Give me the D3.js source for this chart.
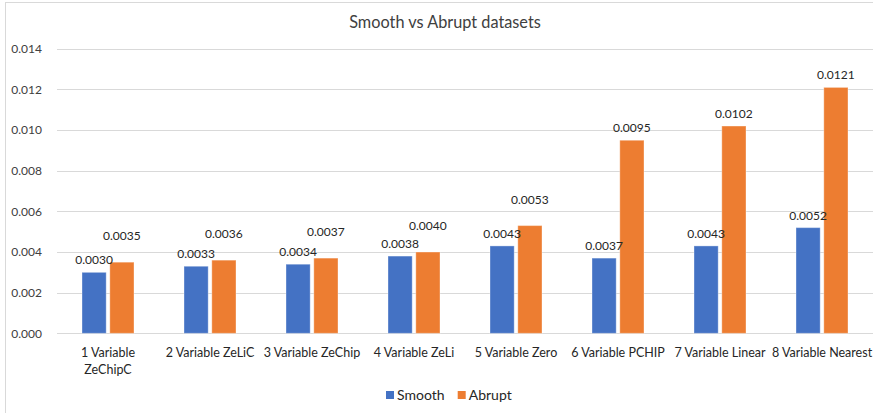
<!DOCTYPE html>
<html>
<head>
<meta charset="utf-8">
<script src="https://cdn.jsdelivr.net/npm/d3@7"></script>
<style>
	body { margin: 0; background: #fff; }
	svg { font-family: Lato, "Open Sans", sans-serif; }
</style>
</head>
<body>
<script>
var categories = ["1 Variable ZeChipC", "2 Variable ZeLiC", "3 Variable ZeChip", "4 Variable ZeLi",
	"5 Variable Zero", "6 Variable PCHIP", "7 Variable Linear", "8 Variable Nearest"];
var seriesNames = ["Smooth", "Abrupt"];
var smooth = [0.0030, 0.0033, 0.0034, 0.0038, 0.0043, 0.0037, 0.0043, 0.0052];
var abrupt = [0.0035, 0.0036, 0.0037, 0.0040, 0.0053, 0.0095, 0.0102, 0.0121];
var yTicks = [0, 0.002, 0.004, 0.006, 0.008, 0.010, 0.012, 0.014];
// extra lift (px) that the original gave some Abrupt labels
var abruptLabelLift = [14, 14, 14, 14, 14, 0, 0, 0];

var colors = ["#4472C4", "#ED7D31"];
var width = 873, height = 413;
var margin = {left: 57, right: 2, top: 49, bottom: 80};

var svg = d3.select("body").append("svg")
	.attr("width", width)
	.attr("height", height);

// chart frame
svg.append("rect")
	.attr("x", 5.5).attr("y", 2.5)
	.attr("width", 900).attr("height", 500)
	.attr("fill", "none")
	.attr("stroke", "#d9d9d9");

svg.append("text")
	.attr("x", 445).attr("y", 28)
	.attr("text-anchor", "middle")
	.attr("font-size", 16.3)
	.attr("fill", "#404040")
	.text("Smooth vs Abrupt datasets");

var x = d3.scaleBand()
	.domain(categories)
	.range([margin.left, width - margin.right + 2]);
var x1 = d3.scaleBand()
	.domain(seriesNames)
	.range([x.bandwidth() / 2 - 26, x.bandwidth() / 2 + 26])
	.paddingInner(0.13);
var y = d3.scaleLinear()
	.domain([0, 0.014])
	.range([333.3, 48.8]);

// gridlines
svg.append("g")
	.selectAll("line")
	.data(yTicks)
	.enter()
	.append("line")
	.attr("x1", margin.left)
	.attr("x2", width)
	.attr("y1", function(d){return Math.round(y(d)) + 0.5;})
	.attr("y2", function(d){return Math.round(y(d)) + 0.5;})
	.attr("stroke", "#d9d9d9")
	.attr("stroke-width", 1);

var yAxis = svg.append("g")
	.attr("transform", "translate(" + (margin.left - 12) + ",0)")
	.call(d3.axisLeft(y).tickValues(yTicks).tickFormat(d3.format(".3f")).tickSize(0));
yAxis.select(".domain").remove();
yAxis.selectAll("text")
	.attr("font-size", 12)
	.attr("font-family", "Lato")
	.attr("fill", "#404040");

var rows = categories.map(function(c, i){
	return [
		{cat: c, name: seriesNames[0], v: smooth[i], lift: 0},
		{cat: c, name: seriesNames[1], v: abrupt[i], lift: abruptLabelLift[i]}
	];
});

var groups = svg.append("g")
	.selectAll("g")
	.data(rows)
	.enter()
	.append("g")
	.attr("transform", function(d){return "translate(" + x(d[0].cat) + ",0)";});

groups.selectAll("rect")
	.data(function(d){return d;})
	.enter()
	.append("rect")
	.attr("x", function(d){return x1(d.name);})
	.attr("width", x1.bandwidth())
	.attr("y", function(d){return y(d.v);})
	.attr("height", function(d){return y(0) - y(d.v);})
	.attr("fill", function(d, i){return colors[i];})
	.attr("stroke", "#fff")
	.attr("stroke-opacity", 0.35)
	.attr("stroke-width", 1);

groups.selectAll("text")
	.data(function(d){return d;})
	.enter()
	.append("text")
	.attr("x", function(d){return x1(d.name) + x1.bandwidth() / 2;})
	.attr("y", function(d){return y(d.v) - 8 - d.lift;})
	.attr("text-anchor", "middle")
	.attr("font-size", 12)
	.attr("fill", "#262626")
	.text(function(d){return d3.format(".4f")(d.v);});

// category labels
var xAxis = svg.append("g")
	.attr("transform", "translate(0," + y(0) + ")")
	.call(d3.axisBottom(x).tickSize(0).tickPadding(15));
xAxis.select(".domain").remove();
xAxis.selectAll("text")
	.attr("font-size", 12.5)
	.attr("font-family", "Lato")
	.attr("fill", "#262626")
	.each(function(d){
		var t = d3.select(this);
		if (this.getComputedTextLength() > x.bandwidth()) {
			var words = d.split(" ");
			var last = words.pop();
			t.text(null);
			t.append("tspan").attr("x", 0).attr("dy", "0.71em").text(words.join(" "));
			t.append("tspan").attr("x", 0).attr("dy", "1.35em").text(last);
		}
	});

// legend
var legend = svg.append("g")
	.selectAll("g")
	.data(seriesNames)
	.enter()
	.append("g")
	.attr("transform", function(d, i){return "translate(" + (386 + i * 71.7) + ",391)";});
legend.append("rect")
	.attr("width", 8).attr("height", 8)
	.attr("fill", function(d, i){return colors[i];});
legend.append("text")
	.attr("x", 11).attr("y", 9)
	.attr("font-size", 14)
	.attr("fill", "#262626")
	.text(function(d){return d;});
</script>
</body>
</html>
